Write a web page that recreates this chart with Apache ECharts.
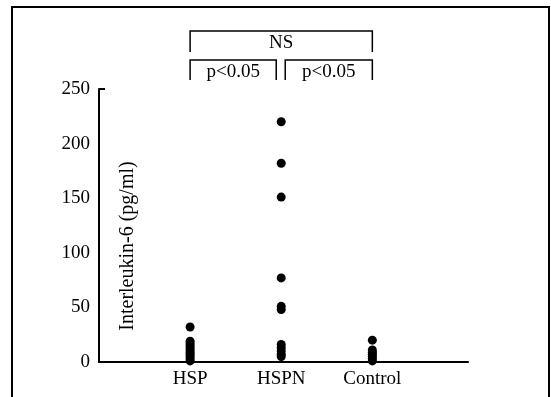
<!DOCTYPE html>
<html>
<head>
<meta charset="utf-8">
<script src="https://cdn.jsdelivr.net/npm/echarts@6/dist/echarts.min.js"></script>
<style>html,body{margin:0;padding:0;background:#fff;}#c{width:551px;height:397px;}</style>
</head>
<body>
<div id="c"></div>
<script>
var categories = ['HSP', 'HSPN', 'Control'];
var hspValues = [32, 19, 17, 15, 13, 11, 9, 7, 5, 3, 1];
var hspnValues = [220, 182, 151, 77, 51, 48, 16, 13, 10, 7, 5];
var controlValues = [20, 11, 9, 7, 5, 3, 1];
var yTicks = [0, 50, 100, 150, 200, 250];
var yAxisTitle = 'Interleukin-6 (pg/ml)';
var brackets = [
  {from: 1, to: 3, label: 'NS', level: 0},
  {from: 1, to: 2, label: 'p<0.05', level: 1},
  {from: 2, to: 3, label: 'p<0.05', level: 1}
];

var FONT = '"Liberation Serif", "DejaVu Serif", serif';
function pts(xIdx, arr) { return arr.map(function (v) { return [xIdx, v]; }); }

var chart = echarts.init(document.getElementById('c'), null, {renderer: 'canvas'});
var option = {
  backgroundColor: '#fff',
  animation: false,
  grid: {left: 99, top: 89, right: 83, bottom: 35, containLabel: false},
  xAxis: {
    type: 'value', min: 0, max: 4.05, interval: 1,
    axisLine: {show: true, onZero: false, lineStyle: {color: '#000', width: 2}},
    axisTick: {show: false},
    splitLine: {show: false},
    axisLabel: {
      color: '#000', fontFamily: FONT, fontSize: 19, margin: 8,
      formatter: function (v) { return categories[v - 1] || ''; }
    }
  },
  yAxis: {
    type: 'value', min: yTicks[0], max: yTicks[yTicks.length - 1], interval: 50,
    axisLine: {show: true, lineStyle: {color: '#000', width: 2}},
    axisTick: {show: false},
    splitLine: {show: false},
    axisLabel: {color: '#000', fontFamily: FONT, fontSize: 19, margin: 9}
  },
  series: [
    {type: 'scatter', data: pts(1, hspValues), symbolSize: 9, itemStyle: {color: '#000', opacity: 1}},
    {type: 'scatter', data: pts(2, hspnValues), symbolSize: 9, itemStyle: {color: '#000', opacity: 1}},
    {type: 'scatter', data: pts(3, controlValues), symbolSize: 9, itemStyle: {color: '#000', opacity: 1}}
  ]
};
chart.setOption(option);

function drawAnnotations() {
  var els = [];
  els.push({type: 'rect', shape: {x: 12, y: 7, width: 537, height: 400},
    style: {fill: 'none', stroke: '#000', lineWidth: 2}, silent: true});
  var top = chart.convertToPixel({gridIndex: 0}, [0, yTicks[yTicks.length - 1]]);
  els.push({type: 'line', shape: {x1: top[0], y1: top[1], x2: top[0] + 6, y2: top[1]},
    style: {stroke: '#000', lineWidth: 2}});
  // y-axis title, placed inside the plot just right of the axis
  els.push({type: 'text', x: 128, y: 246, rotation: Math.PI / 2,
    style: {text: yAxisTitle, fill: '#000', font: '20px ' + FONT, textAlign: 'center', textVerticalAlign: 'middle'}});
  var levelTop = [31, 60];
  var levelBottom = [52, 80];
  brackets.forEach(function (b) {
    var p1 = chart.convertToPixel({gridIndex: 0}, [b.from, 0])[0];
    var p2 = chart.convertToPixel({gridIndex: 0}, [b.to, 0])[0];
    if (b.level === 1) {
      if (b.from === 1) { p2 -= 5; } else { p1 += 4; }
    }
    var yt = levelTop[b.level], yb = levelBottom[b.level];
    els.push({type: 'polyline', shape: {points: [[p1, yb], [p1, yt], [p2, yt], [p2, yb]]},
      style: {stroke: '#000', lineWidth: 1.5, fill: 'none'}});
    els.push({type: 'text', x: (p1 + p2) / 2, y: (yt + yb) / 2 + 2,
      style: {text: b.label, fill: '#000', font: '19px ' + FONT, textAlign: 'center', textVerticalAlign: 'middle'}});
  });
  chart.setOption({graphic: {elements: els}});
}
drawAnnotations();
</script>
</body>
</html>
